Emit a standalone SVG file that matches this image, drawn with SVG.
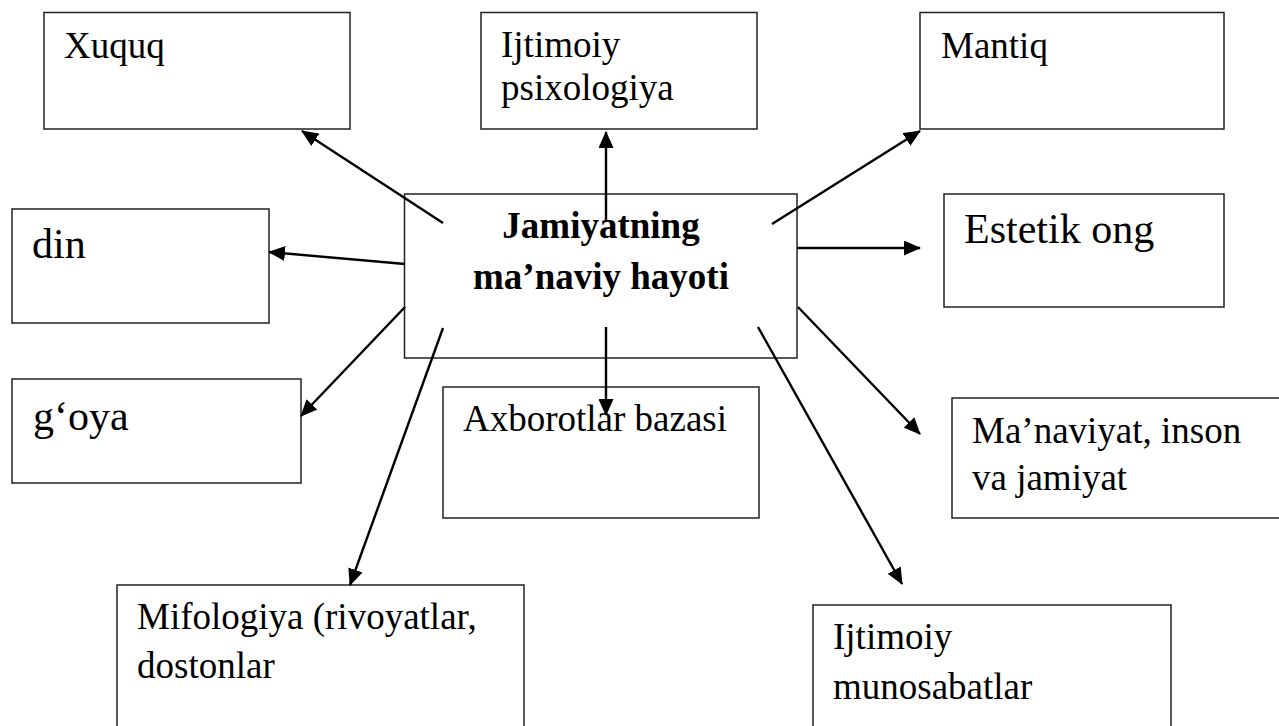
<svg xmlns="http://www.w3.org/2000/svg" width="1279" height="726" viewBox="0 0 1279 726">
<style>
.box{fill:#fff;stroke:#222;stroke-width:1.5}
.t{font-family:"Liberation Serif","Times New Roman",serif;font-size:37px;fill:#000}
.tl{font-size:42px}
.tb{font-weight:bold;text-anchor:middle}
.c{stroke:#000;stroke-width:2.4;fill:none;marker-end:url(#ah)}
</style>
<defs>
<marker id="ah" markerUnits="userSpaceOnUse" markerWidth="17" markerHeight="15" refX="16" refY="7.5" orient="auto">
<path d="M0,0 L17,7.5 L0,15 Z" fill="#000"/>
</marker>
</defs>
<rect width="1279" height="726" fill="#fff"/>
<g id="n-xuquq"><rect class="box" x="44" y="12.5" width="306" height="116.5"/><text class="t" x="64" y="58">Xuquq</text></g>
<g id="n-ijt-psix"><rect class="box" x="481" y="12.5" width="276" height="116.5"/><text class="t" x="501" y="57">Ijtimoiy</text><text class="t" x="501" y="100">psixologiya</text></g>
<g id="n-mantiq"><rect class="box" x="920" y="12.5" width="304" height="116.5"/><text class="t" x="941" y="58">Mantiq</text></g>
<g id="n-din"><rect class="box" x="12" y="209" width="257" height="114"/><text class="t tl" x="32" y="258">din</text></g>
<g id="n-estetik"><rect class="box" x="944" y="194" width="280" height="113"/><text class="t tl" x="964" y="243">Estetik ong</text></g>
<g id="n-center"><rect class="box" x="404.5" y="194" width="392.5" height="164"/><text class="t tb" x="601" y="238">Jamiyatning</text><text class="t tb" x="601" y="289">ma’naviy hayoti</text></g>
<g id="n-goya"><rect class="box" x="12" y="379" width="289" height="104"/><text class="t tl" x="33" y="430">g‘oya</text></g>
<g id="n-axborot"><rect class="box" x="443" y="387" width="316" height="131"/><text class="t" x="463" y="431">Axborotlar bazasi</text></g>
<g id="n-manaviyat"><rect class="box" x="952" y="398" width="340" height="120"/><text class="t" x="972" y="443">Ma’naviyat, inson</text><text class="t" x="972" y="490">va jamiyat</text></g>
<g id="n-mifologiya"><rect class="box" x="117" y="585" width="407" height="160"/><text class="t" x="137" y="629">Mifologiya (rivoyatlar,</text><text class="t" x="137" y="678">dostonlar</text></g>
<g id="n-ijt-mun"><rect class="box" x="813" y="605" width="358" height="140"/><text class="t" x="833" y="649">Ijtimoiy</text><text class="t" x="833" y="699">munosabatlar</text></g>
<g id="connectors">
<line class="c" x1="443" y1="223" x2="302" y2="131"/>
<line class="c" x1="606" y1="222" x2="606" y2="132"/>
<line class="c" x1="772" y1="224" x2="920" y2="131"/>
<line class="c" x1="405" y1="264" x2="269" y2="252"/>
<line class="c" x1="797" y1="248" x2="920" y2="248"/>
<line class="c" x1="405" y1="307" x2="301" y2="416"/>
<line class="c" x1="443" y1="328" x2="350" y2="585"/>
<line class="c" x1="606" y1="327" x2="606" y2="415"/>
<line class="c" x1="798" y1="307" x2="920" y2="434"/>
<line class="c" x1="758" y1="327" x2="902" y2="584"/>
</g>
</svg>
